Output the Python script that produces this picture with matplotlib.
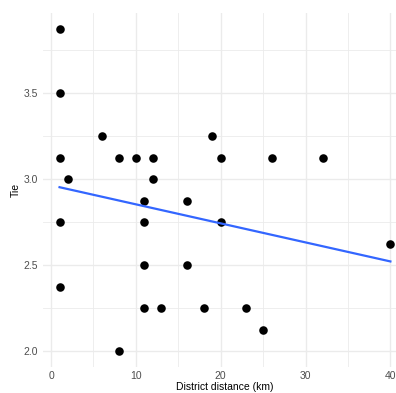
import numpy as np
import matplotlib
matplotlib.use("Agg")
import matplotlib.pyplot as plt

plt.rcParams['font.family'] = ['Liberation Sans', 'DejaVu Sans']

# district distance (km) and tie score per pair
distance = [1, 1, 1, 1, 1, 2, 6, 8, 10, 12, 12, 11, 11, 11, 11, 13, 8,
            16, 16, 18, 19, 20, 20, 23, 25, 26, 32, 40]
tie = [3.875, 3.5, 3.125, 2.75, 2.375, 3.0, 3.25, 3.125, 3.125, 3.125, 3.0,
       2.875, 2.75, 2.5, 2.25, 2.25, 2.0, 2.875, 2.5, 2.25, 3.25, 3.125,
       2.75, 2.25, 2.125, 3.125, 3.125, 2.625]

x = np.array(distance, dtype=float)
y = np.array(tie)

# linear fit, drawn over the data range
slope, intercept = np.polyfit(x, y, 1)
xs = np.linspace(x.min(), x.max(), 50)

fig = plt.figure(figsize=(3.96, 3.93), dpi=100)
ax = fig.add_axes([0.1086, 0.0649, 0.919, 0.903])

ax.scatter(x, y, s=38, color='black', linewidths=0, zorder=3)
ax.plot(xs, intercept + slope * xs, color='#3366FF', lw=1.6, zorder=4)

xpad = 0.05 * (x.max() - x.min())
ypad = 0.05 * (y.max() - y.min())
ax.set_xlim(x.min() - xpad, x.max() + xpad)
ax.set_ylim(y.min() - ypad, y.max() + ypad)

ax.set_xticks([0, 10, 20, 30, 40])
ax.set_xticks([5, 15, 25, 35], minor=True)
ax.set_yticks([2.0, 2.5, 3.0, 3.5])
ax.set_yticks([2.25, 2.75, 3.25, 3.75], minor=True)
ax.grid(True, which='major', color='#EBEBEB', lw=1.0)
ax.grid(True, which='minor', color='#EBEBEB', lw=0.6)
ax.set_axisbelow(True)

for s in ax.spines.values():
    s.set_visible(False)
ax.tick_params(which='both', length=0, labelsize=7.5, labelcolor='#4D4D4D')
ax.tick_params(axis='x', pad=2.5)
ax.tick_params(axis='y', pad=3.5)

ax.set_xlabel('District distance (km)', fontsize=7.5, labelpad=0.5)
ax.set_ylabel('Tie', fontsize=7.5, labelpad=2)

fig.savefig('out.png', dpi=100)
